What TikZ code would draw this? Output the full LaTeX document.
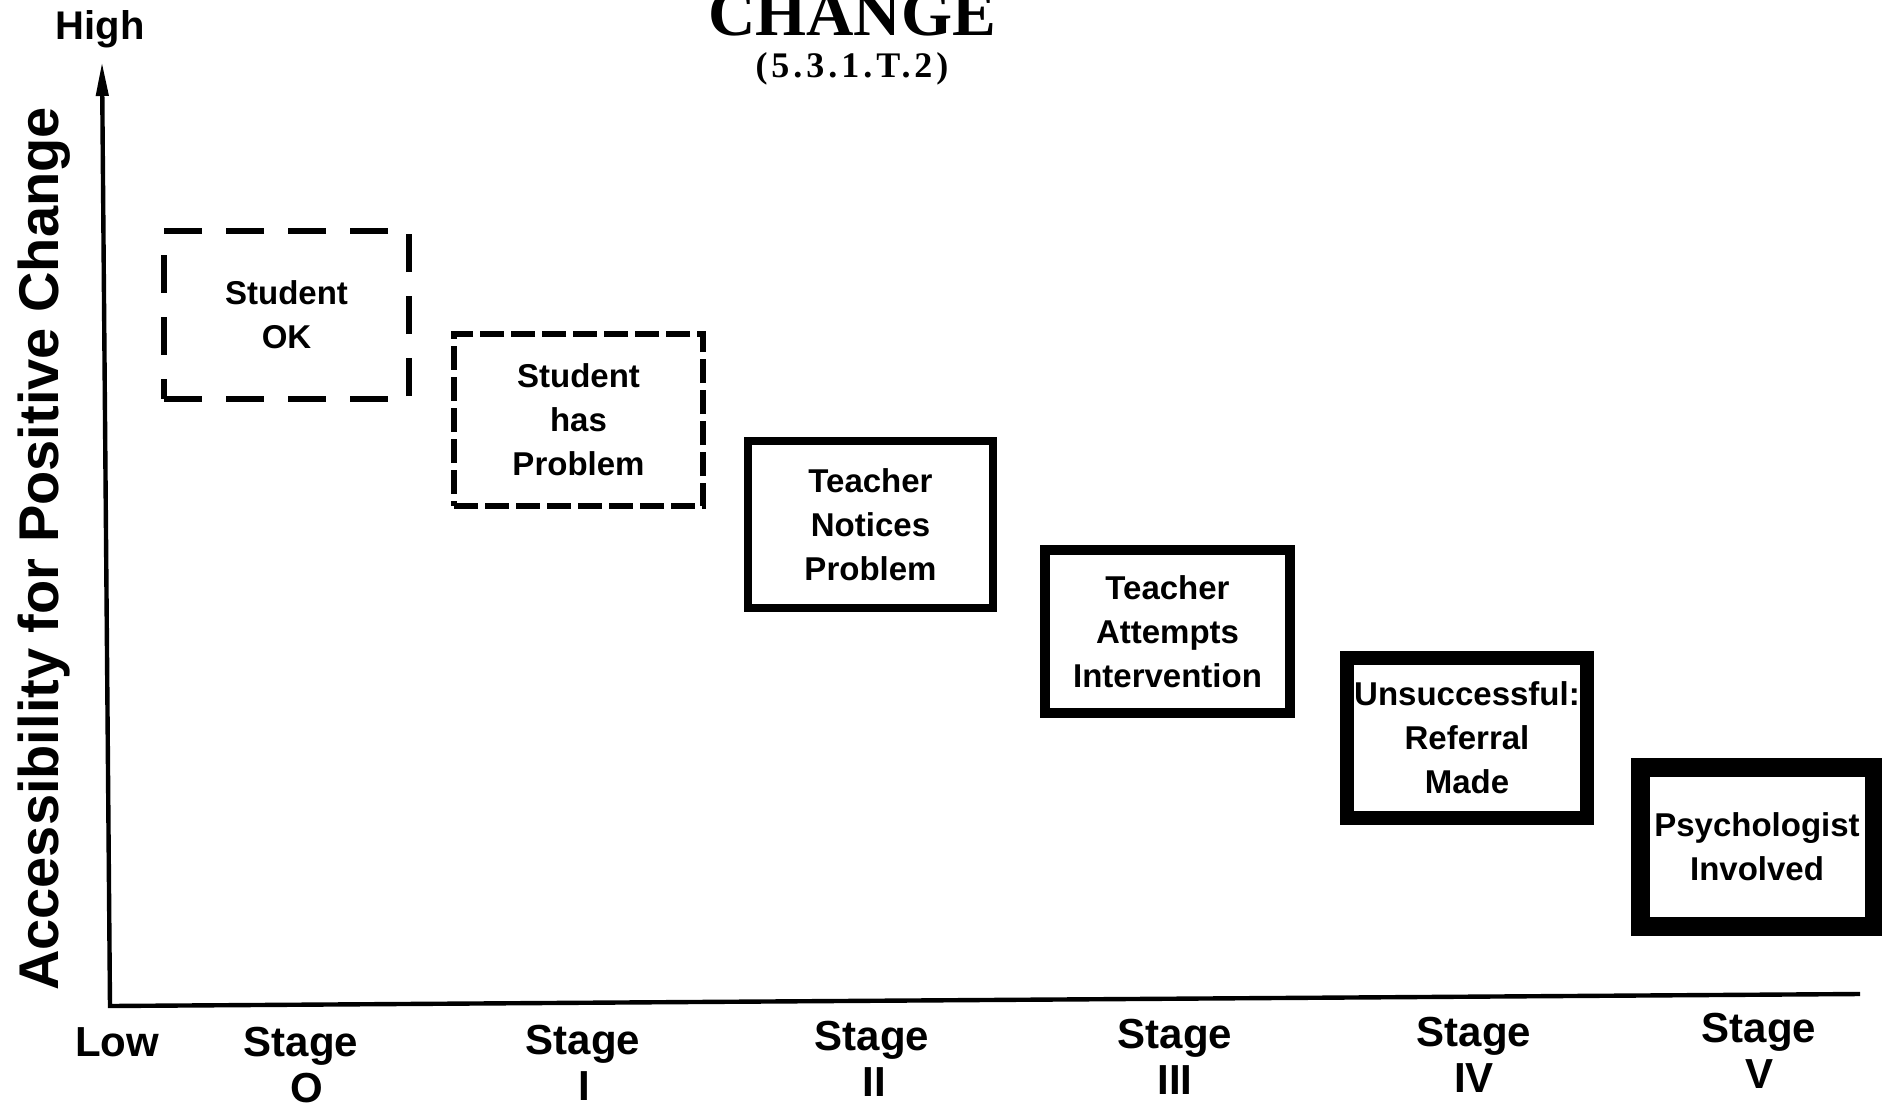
\documentclass[tikz,border=0pt]{standalone}
\usepackage{fontspec}
\setmainfont{Liberation Sans}
\newfontfamily\titlefont{Liberation Serif}
\usetikzlibrary{arrows.meta}
\begin{document}
\begin{tikzpicture}[x=0.5pt,y=-0.5pt,
  box/.style={draw, rectangle, inner sep=0pt, align=center,
    font=\fontsize{16.5}{22}\selectfont\bfseries},
  dashbig/.style={dash pattern=on 19pt off 12pt, line width=3pt},
  dashsmall/.style={dash pattern=on 12pt off 3.5pt, line width=3pt},
  stagelbl/.style={font=\fontsize{21}{23}\selectfont\bfseries, inner sep=0pt, anchor=base},
  axislbl/.style={font=\fontsize{20}{22}\selectfont\bfseries, inner sep=0pt, anchor=base},
  axisline/.style={line width=2.2pt}
]
\useasboundingbox (0,0) rectangle (1882,1107);

% title
\node[inner sep=0pt, anchor=base, font=\titlefont\bfseries\fontsize{32.8}{34}\selectfont] (title) at (852,36) {CHANGE};
\node[inner sep=0pt, anchor=base, font=\titlefont\bfseries\fontsize{18}{20}\selectfont\addfontfeature{LetterSpace=11}] (code) at (852,78) {(5.3.1.T.2)};

% axes
\coordinate (ytop) at (102,62);
\coordinate (origin) at (110,1006);
\coordinate (xend) at (1860,994);
\draw[axisline, {Triangle[length=17pt,width=6pt]}-] (ytop) -- (origin) -- (xend);

\node[axislbl] (high) at (100,40) {High};
\node[stagelbl] (low) at (117,1056) {Low};
\node[rotate=90, anchor=base, inner sep=0pt, font=\fontsize{28}{30}\selectfont\bfseries] (ylab) at (58,549) {Accessibility for Positive Change};

% boxes
\node[box, dashbig, minimum width=122.5pt, minimum height=84pt] (b0) at (286.5,315) {Student\\OK};
\node[box, dashsmall, minimum width=124.5pt, minimum height=86pt] (b1) at (578.5,420) {Student\\has\\Problem};
\node[box, line width=3.8pt, minimum width=122.5pt, minimum height=83.5pt] (b2) at (870.5,524.5) {Teacher\\Notices\\Problem};
\node[box, line width=5.2pt, minimum width=122.5pt, minimum height=81.5pt] (b3) at (1167.5,631.5) {Teacher\\Attempts\\Intervention};
\node[box, line width=7pt, minimum width=120pt, minimum height=80pt] (b4) at (1467,738) {Unsuccessful:\\Referral\\Made};
\node[box, line width=9.5pt, minimum width=117pt, minimum height=79.5pt] (b5) at (1757,846.5) {Psychologist\\Involved};

% stage labels
\node[stagelbl] (s0a) at (301,1056) {Stage};
\node[stagelbl] (s0b) at (307,1102) {O};
\node[stagelbl] (s1a) at (583,1054) {Stage};
\node[stagelbl] (s1b) at (584,1100) {I};
\node[stagelbl] (s2a) at (872,1050) {Stage};
\node[stagelbl] (s2b) at (874,1096) {II};
\node[stagelbl] (s3a) at (1175,1048) {Stage};
\node[stagelbl] (s3b) at (1175,1094) {III};
\node[stagelbl] (s4a) at (1474,1046) {Stage};
\node[stagelbl] (s4b) at (1474,1092) {IV};
\node[stagelbl] (s5a) at (1759,1042) {Stage};
\node[stagelbl] (s5b) at (1759,1088) {V};
\end{tikzpicture}
\end{document}
